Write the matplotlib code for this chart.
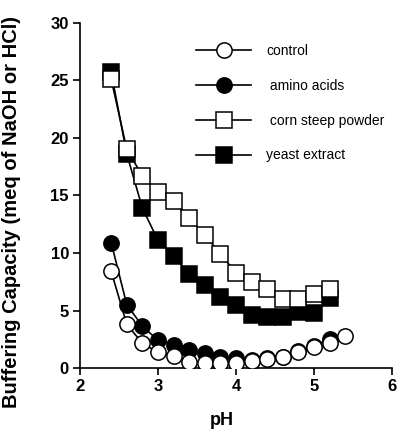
import matplotlib
matplotlib.use("Agg")
import matplotlib.pyplot as plt

plt.rcParams['font.family'] = ['Liberation Sans', 'DejaVu Sans']

ph_control = [2.4, 2.6, 2.8, 3.0, 3.2, 3.4, 3.6, 3.8, 4.0, 4.2, 4.4, 4.6, 4.8, 5.0, 5.2, 5.4]
control = [8.4, 3.8, 2.15, 1.37, 1.07, 0.55, 0.4, 0.4, 0.4, 0.6, 0.78, 0.98, 1.4, 1.85, 2.2, 2.8]

ph_amino = [2.4, 2.6, 2.8, 3.0, 3.2, 3.4, 3.6, 3.8, 4.0, 4.2, 4.4, 4.6, 4.8, 5.0, 5.2]
amino = [10.9, 5.5, 3.65, 2.4, 2.0, 1.56, 1.33, 0.98, 0.84, 0.7, 0.85, 1.0, 1.45, 1.95, 2.5]

ph_corn = [2.4, 2.6, 2.8, 3.0, 3.2, 3.4, 3.6, 3.8, 4.0, 4.2, 4.4, 4.6, 4.8, 5.0, 5.2]
corn = [25.1, 19.0, 16.7, 15.3, 14.5, 13.0, 11.6, 9.9, 8.3, 7.45, 6.85, 6.0, 6.0, 6.4, 6.9]

ph_yeast = [2.4, 2.6, 2.8, 3.0, 3.2, 3.4, 3.6, 3.8, 4.0, 4.2, 4.4, 4.6, 4.8, 5.0, 5.2]
yeast = [25.7, 18.6, 13.9, 11.1, 9.7, 8.2, 7.2, 6.2, 5.5, 4.6, 4.4, 4.4, 4.9, 4.75, 6.05]

labels = ['control', ' amino acids', ' corn steep powder', 'yeast extract']
xticks = [2, 3, 4, 5, 6]
yticks = [0, 5, 10, 15, 20, 25, 30]

fig = plt.figure(figsize=(4.0, 4.32), dpi=100)
ax = fig.add_axes([0.2, 0.148, 0.78, 0.799])

ms = 11
lw = 1.2
mew = 1.1
ax.plot(ph_yeast, yeast, '-s', color='black', mfc='black', mec='black', ms=ms, lw=lw, mew=mew, label=labels[3], zorder=2)
ax.plot(ph_corn, corn, '-s', color='black', mfc='white', mec='black', ms=ms, lw=lw, mew=mew, label=labels[2], zorder=3)
ax.plot(ph_amino, amino, '-o', color='black', mfc='black', mec='black', ms=ms, lw=lw, mew=mew, label=labels[1], zorder=4)
ax.plot(ph_control, control, '-o', color='black', mfc='white', mec='black', ms=ms, lw=lw, mew=mew, label=labels[0], zorder=5)

ax.set_xlim(2, 6)
ax.set_ylim(0, 30)
ax.set_xticks(xticks)
ax.set_yticks(yticks)
ax.spines['top'].set_visible(False)
ax.spines['right'].set_visible(False)
for s in ['left', 'bottom']:
    ax.spines[s].set_linewidth(1.2)
ax.tick_params(direction='out', length=5, width=1.2, labelsize=12, pad=3)
for t in ax.get_xticklabels() + ax.get_yticklabels():
    t.set_fontweight('bold')

ax.set_xlabel('pH', fontsize=13, fontweight='bold')
ax.xaxis.set_label_coords(0.455, -0.128)
ax.set_ylabel('Buffering Capacity (meq of NaOH or HCl)', fontsize=14.5, fontweight='bold')
ax.yaxis.set_label_coords(-0.19, 0.452)

h, l = ax.get_legend_handles_labels()
order = [3, 2, 1, 0]
leg = ax.legend([h[i] for i in order], [l[i] for i in order], loc='upper left',
                bbox_to_anchor=(0.351, 0.959), frameon=False, fontsize=10,
                handlelength=3.9, handletextpad=1.1, labelspacing=1.5, borderpad=0)

fig.savefig('out.png', dpi=100)
